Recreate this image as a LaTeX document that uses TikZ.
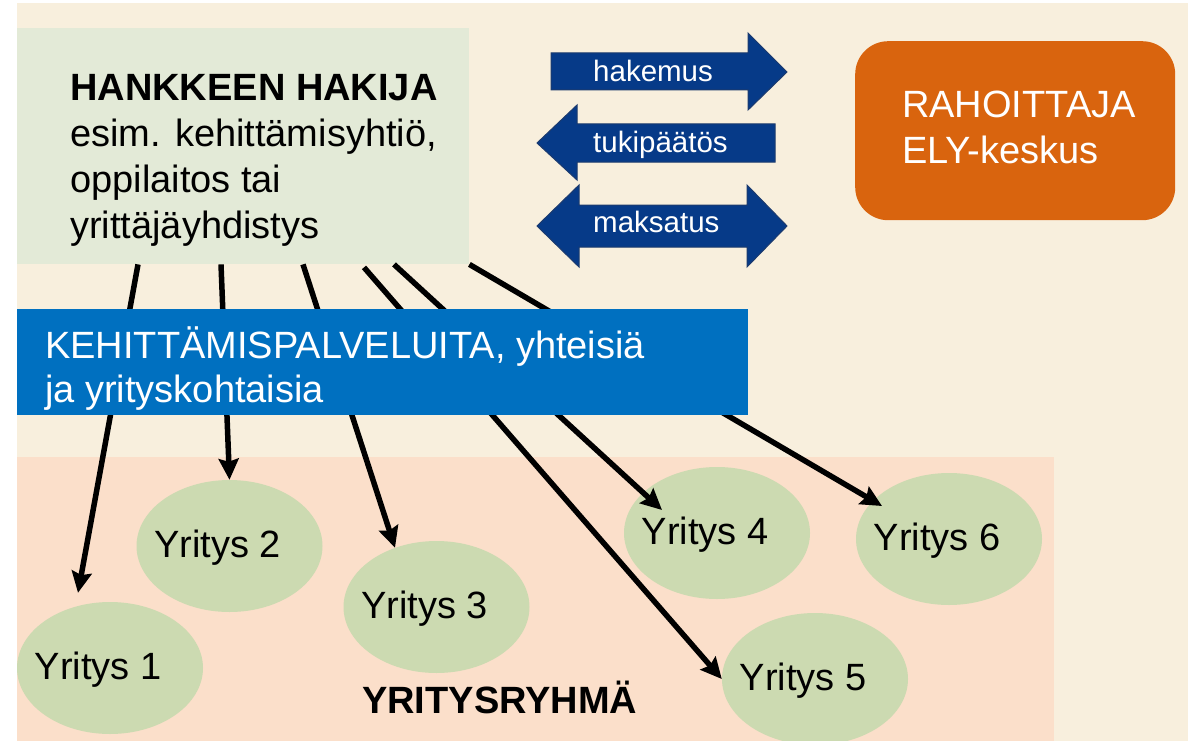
\documentclass[tikz,border=0pt]{standalone}
\usepackage{fontspec}
\setmainfont{Liberation Sans}
\usetikzlibrary{arrows.meta,shapes.geometric}
\definecolor{pagebg}{HTML}{F8EFDD}
\definecolor{applicantgreen}{HTML}{E3EAD7}
\definecolor{serviceblue}{HTML}{0070C0}
\definecolor{groupbg}{HTML}{FBDFCA}
\definecolor{firmgreen}{HTML}{CCDAB1}
\definecolor{funderorange}{HTML}{D9640E}
\definecolor{flowblue}{HTML}{063A88}
\definecolor{flowedge}{HTML}{1C3A6E}
\tikzset{>={Stealth[length=21pt,width=20pt,inset=3pt]}}
\newcommand{\bigtext}{\fontsize{38}{46}\selectfont}
\newcommand{\flowtext}{\fontsize{29.5}{34}\selectfont}

\begin{document}
\begin{tikzpicture}[x=1pt,y=-1pt,
    firm/.style={ellipse, fill=firmgreen, minimum width=186pt, minimum height=132pt, inner sep=0pt},
    firmlabel/.style={xshift=-12pt, yshift=-2pt, font=\bigtext},
    link/.style={->, line width=5.5pt},
    flow/.style={fill=flowblue, draw=flowedge, line width=1pt},
    flowlabel/.style={anchor=base west, text=white, font=\flowtext, inner sep=0pt}]

    % Page and background areas
    \useasboundingbox (0,0) rectangle (1188,741);
    \fill[pagebg] (17,3) rectangle (1188,741);
    \node[fill=applicantgreen, anchor=north west, minimum width=452pt, minimum height=236pt, inner sep=0pt] (hakija) at (17,28) {};
    \node[fill=groupbg, anchor=north west, minimum width=1037pt, minimum height=284pt, inner sep=0pt] (ryhma) at (17,457) {};

    % Companies in the group
    \node[firm, label={[firmlabel]center:Yritys 1}] (y1) at (110,668) {};
    \node[firm, label={[firmlabel]center:Yritys 2}] (y2) at (229.5,546) {};
    \node[firm, label={[firmlabel]center:Yritys 3}] (y3) at (436.5,607) {};
    \node[firm, label={[firmlabel]center:Yritys 4}] (y4) at (717,533) {};
    \node[firm, label={[firmlabel]center:Yritys 5}] (y5) at (815,679) {};
    \node[firm, label={[firmlabel]center:Yritys 6}] (y6) at (949,539) {};
    \node[anchor=base west, font=\bigtext\bfseries, inner sep=0pt] (ryhmatext) at (362,713) {YRITYSRYHMÄ};

    % Services from the applicant to the companies
    \draw[link] ([xshift=121pt]hakija.south west) -- ([xshift=-32pt,yshift=9pt]y1.north);
    \draw[link] ([xshift=204pt]hakija.south west) -- (y2.north);
    \draw[link] ([xshift=286pt]hakija.south west) -- (y3.125);
    \draw[link] ([xshift=347pt,yshift=-3pt]hakija.south west) -- (y5.west);
    \draw[link] ([xshift=377pt]hakija.south west) -- ([shift={(-55pt,23pt)}]y4.center);
    \draw[link] (hakija.south east) -- ([shift={(-67pt,33pt)}]y6.center);

    % Development services band
    \node[fill=serviceblue, anchor=north west, minimum width=731pt, minimum height=106pt, inner sep=0pt] (palvelut) at (17,309) {};
    \node[anchor=base west, align=left, text=white, font=\fontsize{38}{44}\selectfont, inner sep=0pt] (palvelutext) at (45,402) {KEHITTÄMISPALVELUITA, yhteisiä\\ja yrityskohtaisia};

    % Applicant text
    \node[anchor=base west, align=left, font=\bigtext, inner sep=0pt] (hakijatext) at (70,238) {\textbf{HANKKEEN HAKIJA}\\esim. kehittämisyhtiö,\\oppilaitos tai\\yrittäjäyhdistys};

    % Funder
    \node[fill=funderorange, rounded corners=33pt, anchor=north west, minimum width=320pt, minimum height=179pt, inner sep=0pt] (rahoittaja) at (855,41) {};
    \node[anchor=base west, align=left, text=white, font=\bigtext, inner sep=0pt] (rahoittajatext) at (902,163) {RAHOITTAJA\\ELY-keskus};

    % Flows between applicant and funder
    \filldraw[flow] (551,53) -- (748,53) -- (748,33) -- (787,72) -- (748,110) -- (748,90) -- (551,90) -- cycle;
    \node[flowlabel] (hakemus) at (593,82) {hakemus};
    \filldraw[flow] (775,124) -- (577,124) -- (577,105) -- (537,143) -- (577,180) -- (577,162) -- (775,162) -- cycle;
    \node[flowlabel] (tuki) at (593,153) {tukipäätös};
    \filldraw[flow] (579,205) -- (747,205) -- (747,185) -- (787,226) -- (747,267) -- (747,247) -- (579,247) -- (579,267) -- (537,226) -- (579,185) -- cycle;
    \node[flowlabel] (maksu) at (593,232) {maksatus};

\end{tikzpicture}
\end{document}
